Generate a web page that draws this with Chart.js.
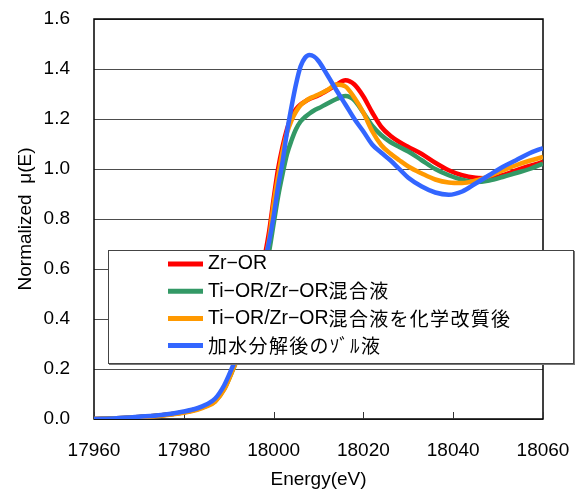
<!DOCTYPE html>
<html>
<head>
<meta charset="utf-8">
<script src="https://cdn.jsdelivr.net/npm/chart.js@4/dist/chart.umd.min.js"></script>
<style>
body{margin:0;background:#fff}
#wrap{width:578px;height:491px}
</style>
</head>
<body>
<div id="wrap"><canvas id="c" width="578" height="491"></canvas></div>
<script>
// photon energy grid (eV), shared by all four spectra
const energy=[17960,17965,17970,17975,17980,17983,17985,17987,17989,17991,17993,17995,17997,17999,
18000,18001,18002,18003,18004,18005,18006,18007,18008,18009,18010,18012,18014,18016,18018,18020,
18022,18024,18026,18028,18030,18033,18036,18039,18042,18045,18048,18051,18054,18057,18060]

const zrOR=[0,0.003,0.008,0.015,0.027,0.04,0.053,0.075,0.125,0.205,0.30,0.41,0.56,0.75,
0.88,1.0,1.09,1.16,1.21,1.24,1.258,1.27,1.28,1.287,1.295,1.315,1.337,1.355,1.338,1.29,
1.225,1.168,1.133,1.108,1.088,1.06,1.025,0.995,0.975,0.965,0.963,0.975,0.994,1.012,1.028]

const mixed=[0,0.003,0.008,0.015,0.027,0.04,0.052,0.072,0.12,0.20,0.29,0.39,0.52,0.67,
0.78,0.89,0.98,1.06,1.115,1.16,1.19,1.208,1.222,1.234,1.243,1.262,1.28,1.292,1.275,1.225,
1.172,1.135,1.108,1.088,1.07,1.035,1.0,0.975,0.957,0.948,0.954,0.968,0.984,1.0,1.022]

const modified=[0,0.002,0.007,0.013,0.025,0.037,0.05,0.07,0.118,0.20,0.29,0.40,0.55,0.72,
0.86,0.97,1.07,1.145,1.195,1.23,1.255,1.27,1.282,1.29,1.298,1.316,1.338,1.33,1.285,1.225,
1.15,1.095,1.062,1.035,1.01,0.982,0.958,0.946,0.944,0.954,0.972,0.994,1.015,1.033,1.048]

const sol=[0,0.003,0.009,0.016,0.03,0.043,0.058,0.082,0.135,0.215,0.30,0.41,0.55,0.71,
0.81,0.93,1.03,1.15,1.25,1.34,1.41,1.445,1.456,1.45,1.432,1.375,1.315,1.258,1.20,1.15,
1.097,1.065,1.035,1.0,0.965,0.93,0.906,0.897,0.91,0.942,0.975,1.008,1.035,1.063,1.084]

const seriesNames=["Zr−OR","Ti−OR/Zr−OR混合液","Ti−OR/Zr−OR混合液を化学改質後","加水分解後のｿﾞﾙ液"]
const seriesValues=[zrOR,mixed,modified,sol]
const seriesColors=["#ff0000","#339966","#ff9900","#3366ff"]

const latin="'Liberation Sans', Arial, sans-serif"
const cjk="'Noto Sans CJK JP', sans-serif"
const CJK=/[\u3000-\u9fff\uff00-\uffef]/

// text in mixed scripts: latin in Liberation, kana/kanji in Noto CJK with a little extra spacing
function drawRuns(ctx,text,x,y){
ctx.fillStyle="#000"
ctx.textBaseline="middle"
ctx.textAlign="left"
text.match(/[\u3000-\u9fff\uff00-\uffef]+|[^\u3000-\u9fff\uff00-\uffef]+/g).forEach(run=>{
const isCjk=CJK.test(run)
ctx.font=isCjk?"19px "+cjk:"19.5px "+latin
ctx.letterSpacing=isCjk?"1.3px":"0px"
ctx.fillText(run,x,y)
x+=ctx.measureText(run).width
})
ctx.letterSpacing="0px"
}

const frame={
id:"frame",
beforeDatasetsDraw(chart){
const {ctx,chartArea:a,scales:{x}}=chart
ctx.save()
ctx.strokeStyle="#000"
ctx.lineWidth=1.5
ctx.strokeRect(a.left,a.top,a.right-a.left,a.bottom-a.top)
ctx.lineWidth=1
ctx.strokeStyle="#333"
x.ticks.forEach((t,i)=>{
const px=Math.round(x.getPixelForTick(i))+0.5
ctx.beginPath()
ctx.moveTo(px,a.bottom)
ctx.lineTo(px,a.bottom-7)
ctx.stroke()
})
ctx.restore()
}
}

const boxLegend={
id:"boxLegend",
afterDatasetsDraw(chart){
const {ctx,chartArea:a}=chart
const L=a.left+14,T=250,W=465,H=113
ctx.save()
ctx.fillStyle="#777"
ctx.fillRect(L+1,T+1,W+1,H+1)
ctx.fillStyle="#fff"
ctx.fillRect(L,T,W,H)
ctx.strokeStyle="#444"
ctx.lineWidth=1
ctx.strokeRect(L+0.5,T+0.5,W,H)
seriesNames.forEach((name,i)=>{
const y=264+i*27.2
ctx.strokeStyle=seriesColors[i]
ctx.lineWidth=5
ctx.beginPath()
ctx.moveTo(L+60,y)
ctx.lineTo(L+95,y)
ctx.stroke()
drawRuns(ctx,name,L+100,y)
})
ctx.restore()
}
}

const tickFont={family:latin,size:19}

new Chart(document.getElementById("c"),{
type:"line",
data:{
datasets:seriesValues.map((vals,i)=>({
label:seriesNames[i],
data:energy.map((e,j)=>({x:e,y:vals[j]})),
borderColor:seriesColors[i],
backgroundColor:seriesColors[i],
borderWidth:4.5,
pointRadius:0,
cubicInterpolationMode:"monotone",
order:3-i
}))
},
options:{
responsive:false,
animation:false,
layout:{padding:{top:19,right:35,left:0,bottom:0}},
plugins:{legend:{display:false},tooltip:{enabled:false}},
scales:{
x:{
type:"linear",min:17960,max:18060,
ticks:{stepSize:20,font:tickFont,color:"#000",padding:20,maxRotation:0,callback:v=>String(v)},
grid:{display:false,drawTicks:false},
border:{display:false},
title:{display:true,text:"Energy(eV)",font:tickFont,color:"#000",padding:{top:0,bottom:0}},
afterFit(s){s.height=72;s.paddingLeft=0;s.paddingRight=0}
},
y:{
min:0,max:1.6,
ticks:{stepSize:0.2,font:tickFont,color:"#000",padding:24,callback:v=>v.toFixed(1)},
grid:{color:"#4d4d4d",drawTicks:false},
border:{display:false},
title:{display:true,text:"Normalized  μ(E)",font:tickFont,color:"#000",padding:{top:14,bottom:14}},
afterFit(s){s.width=94;s.paddingTop=0;s.paddingBottom=0}
}
}
},
plugins:[frame,boxLegend]
})
</script>
</body>
</html>
